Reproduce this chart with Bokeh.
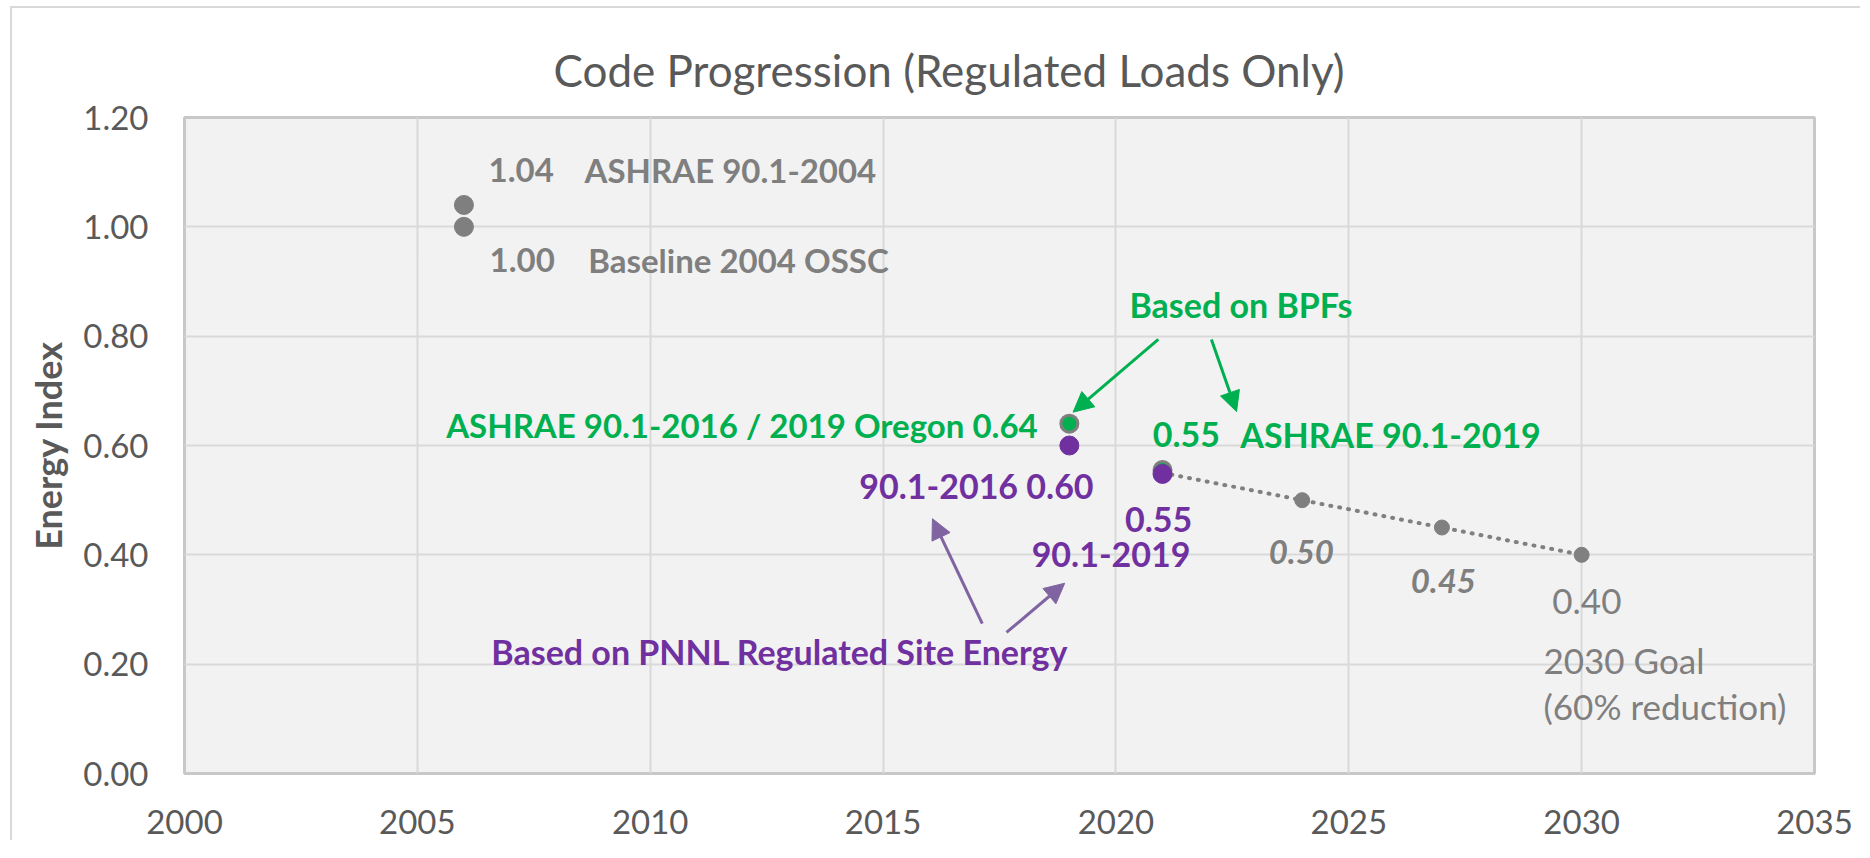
from bokeh.plotting import figure
from bokeh.models import Label, Arrow, NormalHead, FixedTicker, NumeralTickFormatter, Range1d
from bokeh.embed import file_html
from bokeh.resources import INLINE

# ---------------- data ----------------
baseline_years = [2006, 2006]
baseline_values = [1.00, 1.04]
bpf_years = [2019, 2021]
bpf_values = [0.64, 0.555]
pnnl_years = [2019, 2021]
pnnl_values = [0.60, 0.548]
goal_years = [2021, 2024, 2027, 2030]
goal_values = [0.55, 0.50, 0.45, 0.40]
x_ticks = [2000, 2005, 2010, 2015, 2020, 2025, 2030, 2035]
y_ticks = [0.0, 0.2, 0.4, 0.6, 0.8, 1.0, 1.2]

title_text = "Code Progression (Regulated Loads Only)"
y_label = "Energy Index"

GRAY = "#7f7f7f"
GREEN = "#00b050"
PURPLE = "#7030a0"
PURPLE_ARROW = "#8064a2"
TXT = "#595959"

# annotation texts: (text, x, y, align, color, weight, style, size)
annotations = [
    ("1.04", 2006.53, 1.104, "left", GRAY, "bold", "normal", "33px"),
    ("ASHRAE 90.1-2004", 2008.59, 1.104, "left", GRAY, "bold", "normal", "33px"),
    ("1.00", 2006.55, 0.939, "left", GRAY, "bold", "normal", "33px"),
    ("Baseline 2004 OSSC", 2008.67, 0.939, "left", GRAY, "bold", "normal", "33px"),
    ("Based on BPFs", 2020.29, 0.858, "left", GREEN, "bold", "normal", "34px"),
    ("ASHRAE 90.1-2016 / 2019 Oregon 0.64", 2018.32, 0.638, "right", GREEN, "bold", "normal", "33px"),
    ("0.55", 2020.79, 0.621, "left", GREEN, "bold", "normal", "34px"),
    ("ASHRAE 90.1-2019", 2022.67, 0.621, "left", GREEN, "bold", "normal", "34px"),
    ("90.1-2016 0.60", 2019.52, 0.526, "right", PURPLE, "bold", "normal", "34px"),
    ("0.55", 2021.64, 0.465, "right", PURPLE, "bold", "normal", "34px"),
    ("90.1-2019", 2021.60, 0.401, "right", PURPLE, "bold", "normal", "34px"),
    ("Based on PNNL Regulated Site Energy", 2018.98, 0.223, "right", PURPLE, "bold", "normal", "34px"),
    ("0.50", 2023.28, 0.405, "left", GRAY, "bold", "italic", "33px"),
    ("0.45", 2026.33, 0.353, "left", GRAY, "bold", "italic", "33px"),
    ("0.40", 2029.37, 0.315, "left", GRAY, "normal", "normal", "35px"),
    ("2030 Goal", 2029.18, 0.207, "left", GRAY, "normal", "normal", "35px"),
    ("(60% reduction)", 2029.18, 0.124, "left", GRAY, "normal", "normal", "35px"),
]

# arrows: (x_start, y_start, x_end, y_end, color)
arrows = [
    (2020.91, 0.794, 2019.08, 0.661, GREEN),
    (2022.05, 0.794, 2022.59, 0.662, GREEN),
    (2017.13, 0.274, 2016.06, 0.466, PURPLE_ARROW),
    (2017.65, 0.258, 2018.90, 0.348, PURPLE_ARROW),
]

# ---------------- figure ----------------
p = figure(
    width=1850, height=834,
    x_range=Range1d(2000, 2035), y_range=Range1d(0, 1.2),
    output_backend="svg", toolbar_location=None,
    min_border_left=172, min_border_right=48, min_border_top=109, min_border_bottom=69,
    background_fill_color="#f2f2f2", border_fill_color="white",
    styles={"border-left": "2px solid #d9d9d9", "border-top": "2px solid #d9d9d9",
            "margin-left": "10px", "margin-top": "6px"},
)

p.title.text = title_text
p.title.text_font = "Lato"
p.title.text_font_size = "44px"
p.title.text_font_style = "normal"
p.title.text_color = TXT
p.title.align = "left"
p.title.offset = 369
p.title.standoff = 44

p.outline_line_color = "#c8c8c8"
p.outline_line_width = 3

for ax in (p.xaxis, p.yaxis):
    ax.axis_line_color = None
    ax.major_tick_line_color = None
    ax.minor_tick_line_color = None
    ax.major_label_text_font = "Lato"
    ax.major_label_text_font_size = "33px"
    ax.major_label_text_color = TXT

p.xaxis.ticker = FixedTicker(ticks=x_ticks)
p.yaxis.ticker = FixedTicker(ticks=y_ticks)
p.yaxis.formatter = NumeralTickFormatter(format="0.00")
p.xaxis.major_label_standoff = 30
p.yaxis.major_label_standoff = 30

p.yaxis.axis_label = y_label
p.yaxis.axis_label_text_font = "Lato"
p.yaxis.axis_label_text_font_size = "36px"
p.yaxis.axis_label_text_font_style = "bold"
p.yaxis.axis_label_text_color = TXT
p.yaxis.axis_label_standoff = 10

p.xgrid.ticker = FixedTicker(ticks=x_ticks)
p.ygrid.ticker = FixedTicker(ticks=y_ticks)
for g in (p.xgrid, p.ygrid):
    g.grid_line_color = "#d9d9d9"
    g.grid_line_width = 2

# goal line (dotted) and markers
p.line(goal_years, goal_values, line_color="#808080", line_width=4,
       line_dash="1 8", line_cap="round")
p.scatter(goal_years, goal_values, marker="circle", size=15, color="#808080")

# baseline points
p.scatter(baseline_years, baseline_values, marker="circle", size=19, color=GRAY)

# BPF points (green with gray outline)
p.scatter(bpf_years, bpf_values, marker="circle", size=17, fill_color=GREEN,
          line_color=GRAY, line_width=3)

# PNNL points
p.scatter(pnnl_years, pnnl_values, marker="circle", size=19, color=PURPLE)

for (t, x, y, al, col, wt, st, sz) in annotations:
    style = wt if st == "normal" else ("bold italic" if wt == "bold" else "italic")
    p.add_layout(Label(x=x, y=y, text=t, text_align=al, text_baseline="middle",
                       text_color=col, text_font="Lato", text_font_style=style,
                       text_font_size=sz))

for (x0, y0, x1, y1, col) in arrows:
    p.add_layout(Arrow(x_start=x0, y_start=y0, x_end=x1, y_end=y1,
                       line_color=col, line_width=3,
                       end=NormalHead(size=20, fill_color=col, line_color=col, line_width=1)))

open("out.html", "w").write(file_html(p, INLINE))
